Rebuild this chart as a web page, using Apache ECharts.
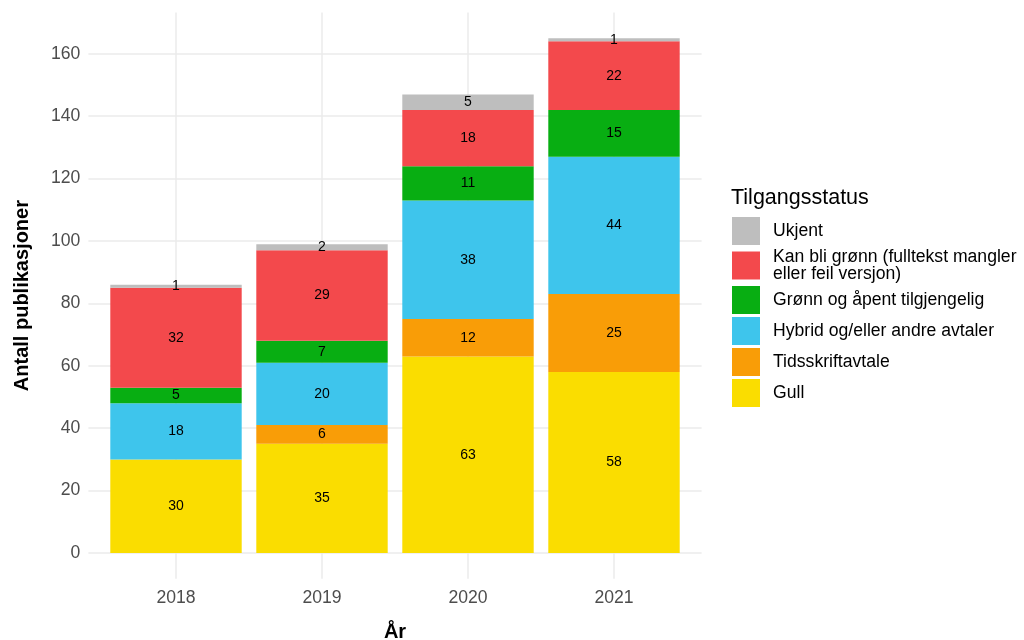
<!DOCTYPE html>
<html>
<head>
<meta charset="utf-8">
<script src="https://cdn.jsdelivr.net/npm/echarts@6/dist/echarts.min.js"></script>
<style>html,body{margin:0;padding:0;background:#fff}#c{width:1024px;height:640px}</style>
</head>
<body>
<div id="c"></div>
<script>
const years = ['2018', '2019', '2020', '2021'];
const yTicks = [0, 20, 40, 60, 80, 100, 120, 140, 160];
const gull = [30, 35, 63, 58];
const tidsskrift = [0, 6, 12, 25];
const hybrid = [18, 20, 38, 44];
const gronn = [5, 7, 11, 15];
const kanBliGronn = [32, 29, 18, 22];
const ukjent = [1, 2, 5, 1];

const seriesDefs = [
  { name: 'Gull', data: gull, color: '#FADD00' },
  { name: 'Tidsskriftavtale', data: tidsskrift, color: '#F99D07' },
  { name: 'Hybrid og/eller andre avtaler', data: hybrid, color: '#3EC5EC' },
  { name: 'Grønn og åpent tilgjengelig', data: gronn, color: '#08AE12' },
  { name: 'Kan bli grønn (fulltekst mangler\neller feil versjon)', data: kanBliGronn, color: '#F3494C' },
  { name: 'Ukjent', data: ukjent, color: '#BEBEBE' }
];
const xPos = years.map((y, i) => i + 1);
const yMin = -8.25, yMax = 173.25;

const chart = echarts.init(document.getElementById('c'), null, { renderer: 'canvas' });
const font = '"Liberation Sans", Arial, sans-serif';
chart.setOption({
  animation: false,
  textStyle: { fontFamily: font },
  title: [{
    text: 'Tilgangsstatus', left: 731, top: 187, padding: 0,
    textStyle: { fontSize: 21.5, fontWeight: 'normal', color: '#000', fontFamily: font }
  }],
  legend: {
    orient: 'vertical', left: 732, top: 217, padding: 0,
    itemWidth: 28, itemHeight: 28, itemGap: 3,
    icon: 'rect',
    data: seriesDefs.slice().reverse().map(s => s.name),
    textStyle: { fontSize: 17.6, color: '#000', lineHeight: 17, fontFamily: font, padding: [0, 0, 0, 8] }
  },
  grid: [
    { left: 88.4, right: 322.4, top: 12.5, bottom: 61.3, containLabel: false, outerBoundsMode: 'none' },
    { left: 103, right: 337, top: 12.5, bottom: 61.3, containLabel: false, outerBoundsMode: 'none' }
  ],
  xAxis: [{
    gridIndex: 0, type: 'value', min: 0.4, max: 4.6,
    axisLine: { show: false },
    axisTick: { show: false, customValues: xPos },
    axisLabel: {
      customValues: xPos, color: '#4D4D4D', fontSize: 17.6, margin: 10,
      formatter: v => years[Math.round(v) - 1] || ''
    },
    splitLine: { show: true, lineStyle: { color: '#EBEBEB', width: 1.5 } },
    name: 'År', nameLocation: 'middle', nameGap: 44,
    nameTextStyle: { fontSize: 20, fontWeight: 'bold', color: '#000', fontFamily: font }
  }, {
    gridIndex: 1, type: 'category', data: years,
    axisLine: { show: false }, axisTick: { show: false }, axisLabel: { show: false },
    splitLine: { show: false }
  }],
  yAxis: [{
    gridIndex: 0, type: 'value', min: yMin, max: yMax,
    axisLine: { show: false },
    axisTick: { show: false, customValues: yTicks },
    axisLabel: { customValues: yTicks, color: '#4D4D4D', fontSize: 17.6, margin: 8 },
    splitLine: { show: true, lineStyle: { color: '#EBEBEB', width: 1.5 } },
    name: 'Antall publikasjoner', nameLocation: 'middle', nameGap: 56, nameRotate: 90,
    nameTextStyle: { fontSize: 20, fontWeight: 'bold', color: '#000', fontFamily: font }
  }, {
    gridIndex: 1, type: 'value', min: yMin, max: yMax,
    axisLine: { show: false }, axisTick: { show: false }, axisLabel: { show: false },
    splitLine: { show: false }
  }],
  series: seriesDefs.map(s => ({
    name: s.name, type: 'bar', stack: 'total', barWidth: '90%',
    xAxisIndex: 1, yAxisIndex: 1,
    itemStyle: { color: s.color },
    label: {
      show: true, position: 'inside', color: '#000', fontSize: 14, fontFamily: font,
      formatter: p => (p.value ? String(p.value) : '')
    },
    data: s.data
  }))
});
</script>
</body>
</html>
